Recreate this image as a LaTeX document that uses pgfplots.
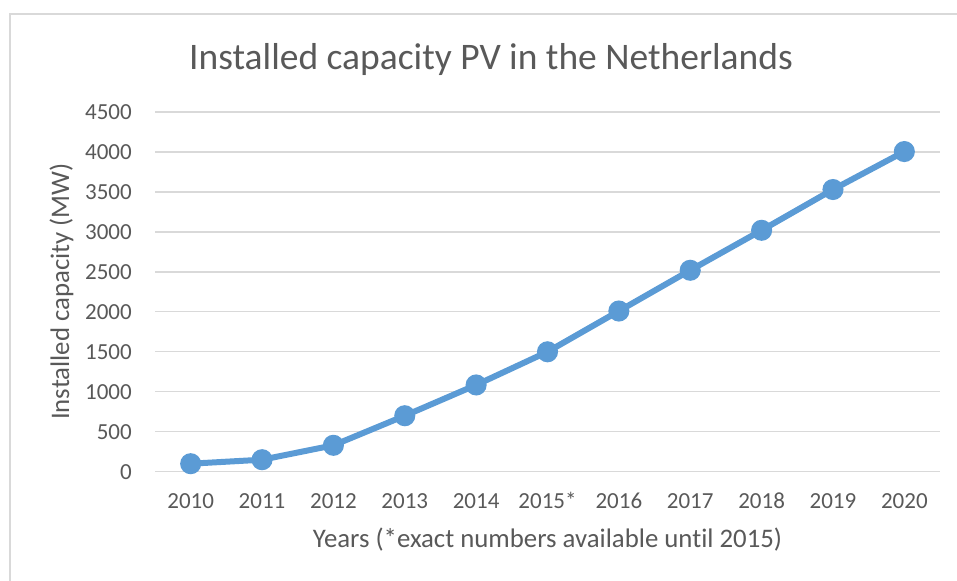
\documentclass[border=0pt]{standalone}
\usepackage{pgfplots}
\pgfplotsset{compat=1.18}
\usepackage{fontspec}
\setmainfont{Carlito}[Ligatures=NoCommon]
\definecolor{txt}{HTML}{595959}
\definecolor{gridc}{HTML}{D9D9D9}
\definecolor{linec}{HTML}{5B9BD5}
\begin{document}
\begin{tikzpicture}[x=1bp,y=1bp]
\useasboundingbox (0,0) rectangle (957,581);
\draw[gridc, line width=1.5bp] (10,0) -- (10,567) -- (957,567);
\node[anchor=base, text=txt, font=\fontsize{37.5bp}{42bp}\selectfont, inner sep=0pt] at (491,511.5) {Installed capacity PV in the Netherlands};
\node[anchor=base, text=txt, rotate=90, font=\fontsize{26.8bp}{31bp}\selectfont, inner sep=0pt] at (69,289.5) {Installed capacity (MW)};
\node[anchor=base, text=txt, font=\fontsize{26.8bp}{31bp}\selectfont, inner sep=0pt] at (547.5,33) {Years (*exact numbers available until 2015)};
\begin{axis}[at={(155bp,109.3bp)}, anchor=south west, scale only axis,
  width=785bp, height=359.7bp,
  xmin=-0.5, xmax=10.5, ymin=0, ymax=4500,
  ytick={0,500,...,4500},
  xtick={0,...,10},
  xticklabels={2010,2011,2012,2013,2014,2015*,2016,2017,2018,2019,2020},
  axis line style={draw=none}, major tick length=0pt,
  ymajorgrids, grid style={gridc, line width=1.3bp},
  tick label style={font=\fontsize{23bp}{27bp}\selectfont, text=txt},
  /pgf/number format/assume math mode=true,
  /pgf/number format/1000 sep={},
  yticklabel style={anchor=east, inner sep=0pt, xshift=-23bp},
  xticklabel style={anchor=base, inner sep=0pt, yshift=-37bp},
  clip=false]
\addplot[linec, line width=6bp, mark=*, mark size=7.5bp, mark options={fill=linec, draw=none}] coordinates {
(0,100) (1,150) (2,330) (3,700) (4,1085) (5,1500) (6,2010) (7,2520) (8,3020) (9,3530) (10,4005)
};
\end{axis}
\end{tikzpicture}
\end{document}
